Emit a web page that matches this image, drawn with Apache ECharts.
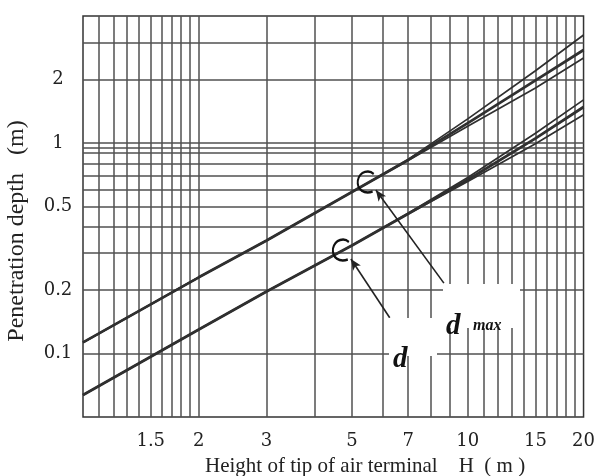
<!DOCTYPE html>
<html>
<head>
<meta charset="utf-8">
<script src="https://cdn.jsdelivr.net/npm/echarts@6/dist/echarts.min.js"></script>
<style>html,body{margin:0;padding:0;background:#fff}#c{width:598px;height:476px}</style>
</head>
<body>
<div id="c"></div>
<script>
// Height of tip of air terminal H (m)
const H = [1, 2, 3, 5, 7, 10, 15, 20];
// d_max bundle (three curves)
const dmaxUpper  = [0.113, 0.23, 0.344, 0.585, 0.835, 1.30, 2.20, 3.25];
const dmaxMiddle = [0.113, 0.23, 0.344, 0.585, 0.830, 1.24, 1.98, 2.76];
const dmaxLower  = [0.113, 0.23, 0.344, 0.585, 0.825, 1.20, 1.82, 2.53];
// d bundle (three curves)
const dUpper  = [0.0636, 0.13, 0.197, 0.326, 0.463, 0.685, 1.11, 1.60];
const dMiddle = [0.0636, 0.13, 0.197, 0.326, 0.461, 0.668, 1.05, 1.48];
const dLower  = [0.0636, 0.13, 0.197, 0.326, 0.459, 0.655, 0.99, 1.36];
// tick labels and grid lines
const xLabels = [1.5, 2, 3, 5, 7, 10, 15, 20];
const yLabels = [0.1, 0.2, 0.5, 1, 2];
const xGrid = [1.1,1.2,1.3,1.4,1.5,1.6,1.7,1.8,1.9,2,3,4,5,6,7,8,9,10,11,12,13,14,15,16,17,18,19];
const yGrid = [0.1,0.2,0.3,0.4,0.5,0.6,0.7,0.8,0.9,0.95,1,2,3];
// annotation anchors (data coords)
const dmaxBracket = [5.43, 0.652];
const dBracket = [4.68, 0.31];
const dmaxArrow = [[8.67, 0.216], [5.77, 0.597]];
const dArrow = [[6.27, 0.148], [4.97, 0.281]];

const FONT = '"Liberation Serif", "DejaVu Serif", serif';
const TICKFONT = '"DejaVu Serif", "Liberation Serif", serif';
const LINE = '#303030';
const GRIDC = '#505050';
const pair = ys => H.map((h, i) => [h, ys[i]]);
const fmt = v => String(+(+v).toPrecision(3));
const bracketPath = 'path://M16,3 C12,-1 3,0 1,9 C0,17 7,22 15,19';

function lineSeries(name, ys, w, extra) {
  return Object.assign({
    name, type: 'line', data: pair(ys), showSymbol: false, symbol: 'none',
    lineStyle: { color: LINE, width: w }, z: 3, silent: true
  }, extra || {});
}
function annot(bracket, arrow) {
  return {
    markPoint: {
      symbol: bracketPath, symbolSize: [16, 21], symbolKeepAspect: false, silent: true,
      itemStyle: { color: 'rgba(0,0,0,0)', borderColor: '#111', borderWidth: 2.2 },
      label: { show: false },
      data: [{ coord: bracket }]
    },
    markLine: {
      silent: true, symbol: ['none', 'arrow'], symbolSize: [7, 11],
      lineStyle: { color: '#222', width: 1.6, type: 'solid' }, label: { show: false },
      data: [[{ coord: arrow[0] }, { coord: arrow[1] }]]
    }
  };
}

const chart = echarts.init(document.getElementById('c'), null, { renderer: 'canvas' });
chart.setOption({
  animation: false,
  backgroundColor: '#fff',
  grid: { left: 83, right: 14, top: 16, bottom: 59, show: true, borderColor: '#333', borderWidth: 1.5, backgroundColor: 'transparent' },
  xAxis: {
    type: 'log', logBase: 10, min: 1, max: 20,
    axisLine: { show: false },
    axisTick: { show: false, customValues: xGrid },
    splitLine: { show: true, lineStyle: { color: GRIDC, width: 1.5 } },
    axisLabel: { customValues: xLabels, formatter: fmt, margin: 15, fontFamily: TICKFONT, fontSize: 18, color: '#222' }
  },
  yAxis: {
    type: 'log', logBase: 10, min: 0.05, max: 4,
    axisLine: { show: false },
    axisTick: { show: false, customValues: yGrid },
    splitLine: { show: true, lineStyle: { color: GRIDC, width: 1.5 } },
    axisLabel: { customValues: yLabels, formatter: fmt, margin: 25, align: 'center', fontFamily: TICKFONT, fontSize: 18, color: '#222' }
  },
  series: [
    lineSeries('dmax upper', dmaxUpper, 1.7),
    lineSeries('dmax middle', dmaxMiddle, 2.8, annot(dmaxBracket, dmaxArrow)),
    lineSeries('dmax lower', dmaxLower, 1.7),
    lineSeries('d upper', dUpper, 1.7),
    lineSeries('d middle', dMiddle, 2.8, annot(dBracket, dArrow)),
    lineSeries('d lower', dLower, 1.7)
  ],
  graphic: [
    { type: 'rect', shape: { x: 443, y: 284, width: 77, height: 44 }, style: { fill: '#fff' }, z: 100 },
    { type: 'rect', shape: { x: 389, y: 318, width: 48, height: 38 }, style: { fill: '#fff' }, z: 100 },
    { type: 'text', x: 446, y: 312, z: 101, style: { text: 'd', font: 'italic bold 29px ' + FONT, fill: '#111', textVerticalAlign: 'alphabetic' } },
    { type: 'text', x: 473, y: 318, z: 101, style: { text: 'max', font: 'italic bold 16px ' + FONT, fill: '#111', textVerticalAlign: 'alphabetic' } },
    { type: 'text', x: 393, y: 345, z: 101, style: { text: 'd', font: 'italic bold 29px ' + FONT, fill: '#111', textVerticalAlign: 'alphabetic' } },
    { type: 'text', x: 205, y: 466, z: 101, style: { text: 'Height of tip of air terminal    H  ( m )', font: '21px ' + FONT, fill: '#222', textVerticalAlign: 'middle' } },
    { type: 'text', x: 17, y: 231, rotation: Math.PI / 2, z: 101, style: { text: 'Penetration depth   (m)', font: '24px ' + FONT, fill: '#222', textAlign: 'center', textVerticalAlign: 'middle' } }
  ]
});
</script>
</body>
</html>
